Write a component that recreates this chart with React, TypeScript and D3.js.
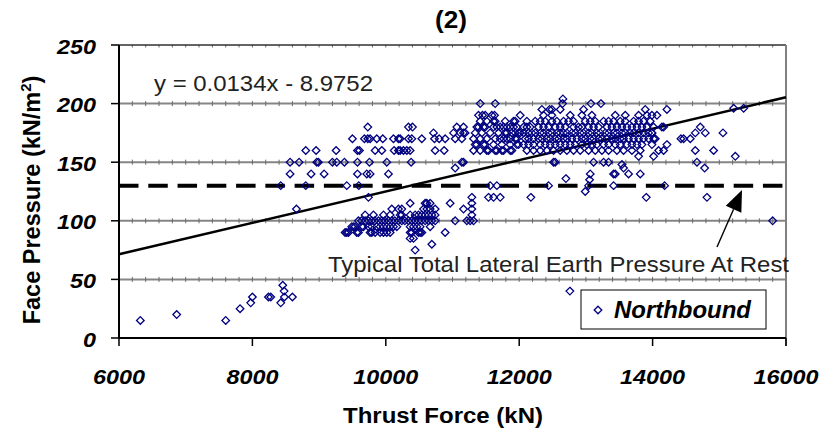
import React from "react";
import * as d3 from "d3";

// ---------- data ----------
const xTicks = [6000, 8000, 10000, 12000, 14000, 16000];
const yTicks = [0, 50, 100, 150, 200, 250];
const gridValues = [50, 100, 150, 200];
const trendSlope = 0.0134;
const trendIntercept = -8.9752;
const restPressure = 130;
const seriesName = "Northbound";
const chartTitle = "(2)";
const equationLabel = "y = 0.0134x - 8.9752";
const restLabel = "Typical Total Lateral Earth Pressure At Rest";

const lowPoints: [number, number][] = [
  [6320, 15], [6865, 20], [7600, 15], [7815, 25], [7975, 30], [8000, 35], [8240, 35],
  [8275, 35], [8425, 30], [8455, 45], [8475, 40], [8480, 35], [8600, 35], [12760, 40],
];

const lowerCluster: [number, number][] = [
  [9390, 90], [9415, 90], [9440, 90], [9565, 90], [9590, 90], [9765, 90], [9790, 90], [9840, 90],
  [9915, 90], [9965, 90], [10015, 90], [10065, 90], [10365, 90], [10390, 90], [10490, 90],
  [10515, 90], [10540, 90], [10890, 90],
  [9490, 95], [9515, 95], [9540, 95], [9640, 95], [9665, 95], [9740, 95], [9790, 95], [9865, 95],
  [9915, 95], [9965, 95], [10015, 95], [10065, 95], [10115, 95], [10165, 95], [10365, 95],
  [10415, 95], [10465, 95], [10515, 95], [10665, 95],
  [9590, 100], [9635, 100], [9690, 100], [9740, 100], [9790, 100], [9835, 100], [9890, 100],
  [9940, 100], [9985, 100], [10040, 100], [10090, 100], [10135, 100], [10190, 100], [10240, 100],
  [10285, 100], [10340, 100], [10390, 100], [10440, 100], [10490, 100], [10535, 100], [10590, 100],
  [10640, 100], [10690, 100], [10740, 100], [11040, 100], [11215, 100], [11265, 100], [11315, 100],
  [9690, 105], [9815, 105], [9965, 105], [10065, 105], [10215, 105], [10240, 105], [10365, 105],
  [10440, 105], [10490, 105], [10540, 105], [10590, 105], [10640, 105], [10690, 105], [10740, 105],
  [11290, 105],
  [10090, 110], [10190, 110], [10240, 110], [10565, 110], [10615, 110], [10665, 110], [10740, 110],
  [11165, 110], [11290, 110],
  [10365, 115], [10590, 115], [10615, 115], [10665, 115], [10965, 115], [11290, 115],
  [11290, 120], [10365, 85], [10415, 85], [10690, 80], [10440, 75],
];

const upperLeft: [number, number][] = [
  [8425, 130], [8800, 130], [9415, 130], [9595, 130], [9740, 120], [8660, 110],
  [8565, 140], [8880, 140], [9075, 140], [9575, 140], [9715, 140], [9765, 140], [10040, 140],
  [8565, 150], [8700, 150], [8965, 150], [8990, 150], [9200, 150], [9265, 150], [9380, 150],
  [9575, 150], [9755, 150], [10015, 150], [10380, 150],
  [8800, 160], [8955, 160], [9255, 160], [9575, 160], [9605, 160], [9840, 160], [9940, 160],
  [10125, 160], [10190, 160], [10215, 160], [10265, 160], [10315, 160], [10365, 160], [10740, 160],
  [10875, 160],
  [9500, 170], [9680, 170], [9730, 170], [9765, 170], [9865, 170], [9955, 170], [10115, 170],
  [10190, 170], [10215, 170], [10340, 170], [10390, 170], [10540, 170], [10730, 170], [10800, 170],
  [10890, 170], [10715, 175], [9730, 180], [10400, 180], [10340, 180],
];

const midCluster: [number, number][] = [
  [11415, 200], [11640, 200],
  [11390, 190], [11450, 190], [11490, 190], [11590, 190], [11630, 190],
  [11415, 185], [11515, 185], [11615, 185], [11640, 185], [11790, 185], [11915, 185], [11940, 185],
  [11065, 180], [11165, 180], [11365, 180], [11390, 180], [11465, 180], [11490, 180], [11615, 180],
  [11665, 180], [11715, 180], [11765, 180], [11815, 180], [11865, 180], [11915, 180], [11965, 180],
  [11015, 175], [11115, 175], [11165, 175], [11190, 175], [11340, 175], [11440, 175], [11565, 175],
  [11690, 175], [11790, 175], [11815, 175], [11890, 175], [11940, 175], [11990, 175],
  [11040, 170], [11140, 170], [11315, 170], [11415, 170], [11515, 170], [11640, 170], [11715, 170],
  [11765, 170], [11815, 170], [11865, 170], [11940, 170], [11965, 170],
  [11340, 165], [11365, 165], [11465, 165], [11490, 165], [11615, 165], [11740, 165], [11865, 165],
  [11965, 165], [11990, 165],
  [11315, 160], [11415, 160], [11515, 160], [11540, 160], [11640, 160], [11665, 160], [11740, 160],
  [11765, 160], [11865, 160], [11890, 160],
  [11140, 150], [11165, 150], [11040, 145],
  [11540, 120], [11615, 120], [11715, 120], [11565, 130], [11665, 130],
];

const mainCluster: [number, number][] = [
  [12655, 204], [12650, 200], [13075, 200], [13225, 200],
  [12340, 195], [12455, 195], [12490, 195], [12615, 195], [12965, 195], [13890, 195],
  [12015, 190], [12365, 190], [12490, 190], [12765, 190], [12940, 190], [13090, 190], [13440, 190],
  [13590, 190], [13790, 190], [13915, 190], [13990, 190],
  [12115, 185], [12240, 185], [12315, 185], [12390, 185], [12490, 185], [12565, 185], [12665, 185],
  [12740, 185], [12815, 185], [12990, 185], [13065, 185], [13140, 185], [13265, 185], [13340, 185],
  [13415, 185], [13515, 185], [13590, 185], [13715, 185], [13790, 185], [13865, 185], [13965, 185],
  [12065, 180], [12115, 180], [12165, 180], [12290, 180], [12365, 180], [12440, 180], [12540, 180],
  [12615, 180], [12690, 180], [12815, 180], [12890, 180], [12940, 180], [13040, 180], [13115, 180],
  [13190, 180], [13315, 180], [13390, 180], [13465, 180], [13540, 180], [13615, 180], [13690, 180],
  [13765, 180], [13840, 180], [13915, 180],
  [12015, 175], [12065, 175], [12140, 175], [12190, 175], [12240, 175], [12315, 175], [12365, 175],
  [12440, 175], [12490, 175], [12565, 175], [12615, 175], [12665, 175], [12715, 175], [12790, 175],
  [12840, 175], [12915, 175], [12965, 175], [13040, 175], [13090, 175], [13165, 175], [13215, 175],
  [13290, 175], [13340, 175], [13415, 175], [13465, 175], [13540, 175], [13590, 175], [13665, 175],
  [13715, 175], [13790, 175], [13865, 175], [13940, 175], [13990, 175],
  [12090, 170], [12140, 170], [12215, 170], [12290, 170], [12340, 170], [12415, 170], [12465, 170],
  [12540, 170], [12590, 170], [12665, 170], [12715, 170], [12790, 170], [12865, 170], [12940, 170],
  [12990, 170], [13065, 170], [13115, 170], [13190, 170], [13240, 170], [13315, 170], [13390, 170],
  [13440, 170], [13515, 170], [13565, 170], [13640, 170], [13715, 170], [13790, 170], [13865, 170],
  [13940, 170],
  [12065, 165], [12140, 165], [12215, 165], [12315, 165], [12390, 165], [12465, 165], [12540, 165],
  [12615, 165], [12690, 165], [12765, 165], [12840, 165], [12940, 165], [13015, 165], [13090, 165],
  [13165, 165], [13265, 165], [13340, 165], [13440, 165], [13515, 165], [13615, 165], [13690, 165],
  [13765, 165], [13840, 165],
  [12115, 160], [12215, 160], [12315, 160], [12415, 160], [12515, 160], [12615, 160], [12715, 160],
  [12815, 160], [12915, 160], [13040, 160], [13140, 160], [13240, 160], [13340, 160], [13465, 160],
  [13565, 160], [13690, 160], [13815, 160],
  [13790, 155], [12515, 150], [12540, 150], [13115, 150], [13265, 150], [13340, 150], [13540, 148],
  [13565, 145], [13415, 140], [13440, 140], [13640, 140], [13815, 140], [13065, 140],
  [12700, 136], [13055, 135], [12440, 130], [13040, 130], [13415, 130], [12990, 125],
  [12175, 120], [13905, 120],
];

const rightTail: [number, number][] = [
  [14215, 195], [14065, 190], [14140, 180], [14165, 180], [14015, 180], [14040, 170], [14015, 170],
  [13990, 175], [13990, 165], [14215, 165], [14165, 160], [14090, 160], [14015, 155],
  [14425, 170], [14465, 170], [14565, 170], [14640, 175], [14715, 180], [14790, 175], [15055, 175],
  [14640, 160], [14915, 160], [15240, 155], [14665, 150], [14780, 145], [15215, 196], [15365, 196],
  [14180, 130], [14815, 120], [15800, 100],
];

const northbound: [number, number][] = [
  ...lowPoints, ...lowerCluster, ...upperLeft, ...midCluster, ...mainCluster, ...rightTail,
];

// ---------- layout ----------
const W = 831;
const H = 434;
const M = { left: 119, right: 786, top: 45, bottom: 338 };
const FONT = "'Liberation Sans', Arial, sans-serif";
const NAVY = "#000080";
const DIGIT_W = 13; // rendered width of one tick-label digit

const diamond = (cx: number, cy: number, r: number) => {
  const p = d3.path();
  p.moveTo(cx, cy - r);
  p.lineTo(cx + r, cy);
  p.lineTo(cx, cy + r);
  p.lineTo(cx - r, cy);
  p.closePath();
  return p.toString();
};

export default function App() {
  const x = d3.scaleLinear().domain([6000, 16000]).range([M.left, M.right]);
  const y = d3.scaleLinear().domain([0, 250]).range([M.bottom, M.top]);
  const minorTicks = d3.range(6200, 16000, 200);

  const trend = d3
    .line<number>()
    .x((v) => x(v))
    .y((v) => y(trendSlope * v + trendIntercept));

  // arrow geometry (annotation)
  const arrowTip: [number, number] = [742, 190];
  const arrowTail: [number, number] = [717, 247];
  const ang = Math.atan2(arrowTip[1] - arrowTail[1], arrowTip[0] - arrowTail[0]);
  const headLen = 21;
  const headHalf = 8.5;
  const bx = arrowTip[0] - headLen * Math.cos(ang);
  const by = arrowTip[1] - headLen * Math.sin(ang);
  const head = `M${arrowTip[0]},${arrowTip[1]} L${bx + headHalf * Math.sin(ang)},${by - headHalf * Math.cos(ang)} L${bx - headHalf * Math.sin(ang)},${by + headHalf * Math.cos(ang)} Z`;

  return (
    <svg
      width={W}
      height={H}
      style={{ position: "absolute", left: 0, top: 0, background: "#fff" }}
      fontFamily={FONT}
    >
      <rect x={0} y={0} width={W} height={H} fill="#fff" />
      {/* title */}
      <text
        x={435}
        y={28}
        fontSize={23}
        fontWeight="bold"
        fill="#000"
        textLength={32}
        lengthAdjust="spacingAndGlyphs"
      >
        {chartTitle}
      </text>

      {/* gridlines */}
      {gridValues.map((g) => (
        <line key={g} x1={M.left} x2={M.right} y1={y(g)} y2={y(g)} stroke="#858585" strokeWidth={2} />
      ))}
      {/* minor tick marks along gridlines */}
      {[...gridValues, 250].map((g) =>
        minorTicks.map((t) => (
          <line
            key={`${g}-${t}`}
            x1={x(t)}
            x2={x(t)}
            y1={y(g) - (g === 250 ? 0 : 2.5)}
            y2={y(g) + 2.5}
            stroke="#6a6a6a"
            strokeWidth={1}
          />
        ))
      )}
      {/* frame */}
      <line x1={M.left} x2={M.right} y1={M.top} y2={M.top} stroke="#303030" strokeWidth={1.5} />
      <line x1={M.right} x2={M.right} y1={M.top} y2={M.bottom + 8} stroke="#808080" strokeWidth={2} />

      {/* rest pressure dashed line */}
      <line
        x1={M.left}
        x2={783}
        y1={y(restPressure)}
        y2={y(restPressure)}
        stroke="#000"
        strokeWidth={4}
        strokeDasharray="19.5 9.77"
      />

      {/* trend line */}
      <path d={trend([6000, 16000]) || ""} stroke="#000" strokeWidth={2.5} fill="none" />

      {/* points */}
      {northbound.map(([fx, fy], i) => (
        <path key={i} d={diamond(x(fx), y(fy), 3.8)} fill="none" stroke={NAVY} strokeWidth={1.3} />
      ))}

      {/* axes */}
      <line x1={M.left} x2={M.left} y1={M.top} y2={M.bottom} stroke="#000" strokeWidth={2} />
      <line x1={M.left} x2={M.right} y1={M.bottom} y2={M.bottom} stroke="#000" strokeWidth={2} />
      {xTicks.map((t) => {
        const w = String(t).length * DIGIT_W;
        return (
          <g key={t}>
            <line x1={x(t)} x2={x(t)} y1={M.bottom} y2={M.bottom + 8} stroke="#000" strokeWidth={1.5} />
            <text
              x={x(t) - w / 2}
              y={384}
              fontSize={21}
              fontWeight="bold"
              fontStyle="italic"
              textLength={w}
              lengthAdjust="spacingAndGlyphs"
            >
              {t}
            </text>
          </g>
        );
      })}
      {yTicks.map((t) => {
        const w = String(t).length * DIGIT_W;
        return (
          <g key={t}>
            <line x1={M.left - 8} x2={M.left} y1={y(t)} y2={y(t)} stroke="#000" strokeWidth={1.5} />
            <text
              x={96 - w}
              y={y(t) + 8.5}
              fontSize={21}
              fontWeight="bold"
              fontStyle="italic"
              textLength={w}
              lengthAdjust="spacingAndGlyphs"
            >
              {t}
            </text>
          </g>
        );
      })}

      {/* axis titles */}
      <text
        x={343}
        y={423}
        fontSize={21.5}
        fontWeight="bold"
        textLength={200}
        lengthAdjust="spacingAndGlyphs"
      >
        Thrust Force (kN)
      </text>
      <text
        transform={`translate(40, 200) rotate(-90)`}
        textAnchor="middle"
        fontSize={23.5}
        fontWeight="bold"
      >
        Face Pressure (kN/m
        <tspan fontSize={15} dy={-9}>2</tspan>
        <tspan dy={9}>)</tspan>
      </text>

      {/* annotations */}
      <text x={154} y={91} fontSize={22} fill="#222" textLength={219} lengthAdjust="spacingAndGlyphs">
        {equationLabel}
      </text>
      <text x={328} y={272} fontSize={22} fill="#222" textLength={461} lengthAdjust="spacingAndGlyphs">
        {restLabel}
      </text>
      <line x1={arrowTail[0]} y1={arrowTail[1]} x2={bx} y2={by} stroke="#000" strokeWidth={1.4} />
      <path d={head} fill="#000" />

      {/* legend */}
      <rect x={581} y={290} width={185} height={39} fill="#fff" stroke="#000" strokeWidth={1} />
      <path d={diamond(598, 310, 3.8)} fill="none" stroke={NAVY} strokeWidth={1.3} />
      <text
        x={614}
        y={318}
        fontSize={23}
        fontWeight="bold"
        fontStyle="italic"
        textLength={137}
        lengthAdjust="spacingAndGlyphs"
      >
        {seriesName}
      </text>
    </svg>
  );
}
